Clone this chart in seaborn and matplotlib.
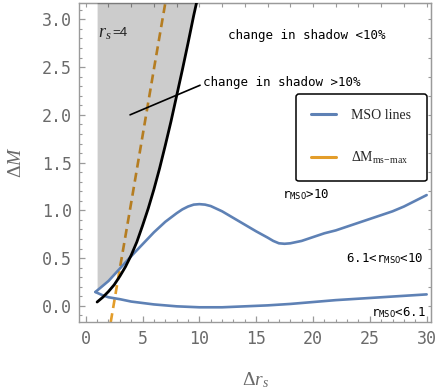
import numpy as np
import pandas as pd
import matplotlib
matplotlib.use("Agg")
import matplotlib.pyplot as plt
from matplotlib.lines import Line2D
import seaborn as sns

# --- data -------------------------------------------------------------
# upper MSO branch (r_MSO > 10 / 6.1 < r_MSO < 10 boundary)
mso_upper_x = [0.85, 2, 3, 4, 5, 6, 7, 8, 8.5, 9, 9.5, 10, 10.5, 11, 12, 13, 14,
               15, 16, 16.5, 17, 17.5, 18, 19, 20, 21, 22, 23, 24, 25, 26, 27,
               28, 29, 30]
mso_upper_y = [0.145, 0.26, 0.39, 0.52, 0.645, 0.77, 0.88, 0.97, 1.01, 1.04,
               1.06, 1.065, 1.06, 1.045, 0.99, 0.92, 0.85, 0.78, 0.715, 0.68,
               0.655, 0.65, 0.655, 0.68, 0.72, 0.76, 0.79, 0.83, 0.87, 0.91,
               0.95, 0.99, 1.04, 1.10, 1.16]
# lower MSO branch (r_MSO < 6.1 boundary)
mso_lower_x = [0.85, 1.5, 2, 3, 4, 5, 6, 7, 8, 9, 10, 12, 14, 16, 18, 20, 22, 24,
               26, 28, 30]
mso_lower_y = [0.145, 0.11, 0.09, 0.07, 0.045, 0.03, 0.015, 0.005, -0.005, -0.01,
               -0.015, -0.015, -0.005, 0.005, 0.02, 0.04, 0.06, 0.075, 0.09, 0.105,
               0.12]
# 10% shadow-change boundary
shadow_x = [1, 1.5, 2, 2.5, 3, 3.5, 4, 4.5, 5, 5.5, 6, 6.5, 7, 7.5, 8, 8.5, 9,
            9.5, 9.8]
shadow_y = [0.04, 0.09, 0.15, 0.22, 0.31, 0.41, 0.53, 0.67, 0.84, 1.02, 1.22,
            1.44, 1.68, 1.93, 2.2, 2.47, 2.75, 3.04, 3.2]
# Delta M_ms-max
dm_max_x = [2.2, 3.0, 4.0, 5.0, 6.0, 7.0, 7.3]
dm_max_y = [-0.17, 0.39, 1.08, 1.78, 2.48, 3.17, 3.38]

x_ticks = [0, 5, 10, 15, 20, 25, 30]
y_ticks = [0.0, 0.5, 1.0, 1.5, 2.0, 2.5, 3.0]
x_lim = (-0.6, 30.4)
y_lim = (-0.17, 3.17)

# --- style ------------------------------------------------------------
sns.set_style("ticks")
plt.rcParams["font.family"] = ["DejaVu Sans Mono", "DejaVu Sans"]
plt.rcParams["mathtext.fontset"] = "custom"
plt.rcParams["mathtext.rm"] = "Liberation Serif"
plt.rcParams["mathtext.it"] = "Liberation Serif:italic"
plt.rcParams["mathtext.tt"] = "DejaVu Sans Mono"

BLUE = "#5E81B5"
ORANGE = "#E39D2A"
AXIS_GRAY = "#9a9a9a"
TEXT_GRAY = "#6a6a6a"

fig = plt.figure(figsize=(4.36, 3.89), dpi=100)
ax = fig.add_axes([0.181, 0.172, 0.808, 0.820])

upper = pd.DataFrame({"dr": mso_upper_x, "dM": mso_upper_y})
lower = pd.DataFrame({"dr": mso_lower_x, "dM": mso_lower_y})
shadow = pd.DataFrame({"dr": shadow_x, "dM": shadow_y})
dmax = pd.DataFrame({"dr": dm_max_x, "dM": dm_max_y})

# Delta M_ms-max (dashed), under the shaded region
sns.lineplot(data=dmax, x="dr", y="dM", ax=ax, color=ORANGE, lw=1.9,
             sort=False, estimator=None, zorder=2)
ax.lines[-1].set_dashes((3.4, 2.0))

# shaded region: left of the shadow boundary, above the upper MSO branch
xf = np.linspace(1.0, shadow_x[-1], 300)
lower_edge = np.maximum(np.interp(xf, mso_upper_x, mso_upper_y),
                        np.interp(xf, shadow_x, shadow_y))
ax.fill_between(xf, lower_edge, y_lim[1] + 0.5, color="black", alpha=0.2,
                lw=0, zorder=3)

sns.lineplot(data=upper, x="dr", y="dM", ax=ax, color=BLUE, lw=1.9,
             sort=False, estimator=None, zorder=4)
sns.lineplot(data=lower, x="dr", y="dM", ax=ax, color=BLUE, lw=1.9,
             sort=False, estimator=None, zorder=4)
sns.lineplot(data=shadow, x="dr", y="dM", ax=ax, color="black", lw=2.0,
             sort=False, estimator=None, zorder=5)

# pointer to the shaded region
ax.plot([3.9, 10.06], [2.0, 2.31], color="black", lw=1.2, zorder=6)

ax.set_xlim(*x_lim)
ax.set_ylim(*y_lim)

# --- annotations ------------------------------------------------------
ax.text(12.5, 2.83, "change in shadow <10%", fontsize=9, va="center",
        ha="left", color="black")
ax.text(10.3, 2.34, "change in shadow >10%", fontsize=9, va="center",
        ha="left", color="black")
ax.text(1.06, 2.86, r"$r_s$", fontsize=13, va="center", ha="left",
        color="#222222", zorder=7)
ax.text(2.35, 2.86, "=4", fontsize=9.5, va="center", ha="left",
        family="Liberation Sans", color="#222222", zorder=7)
ax.text(17.3, 1.17, r"r$_{\mathtt{MSO}}$>10", fontsize=9, va="center",
        ha="left", color="black")
ax.text(29.75, 0.50, r"6.1<r$_{\mathtt{MSO}}$<10", fontsize=9, va="center",
        ha="right", color="black")
ax.text(29.9, -0.075, r"r$_{\mathtt{MSO}}$<6.1", fontsize=9, va="center",
        ha="right", color="black")

# --- legend -----------------------------------------------------------
handles = [Line2D([], [], color=BLUE, lw=2.2),
           Line2D([], [], color=ORANGE, lw=2.2)]
labels = ["MSO lines", r"$\mathrm{\Delta M_{ms\!-\!max}}$"]
leg = ax.legend(handles, labels, loc="upper left",
                bbox_to_anchor=(0.616, 0.715), frameon=True, fancybox=True,
                prop={"family": "Liberation Serif", "size": 10},
                handlelength=1.8, handletextpad=1.1, labelspacing=2.0,
                borderpad=1.1, borderaxespad=0.0)
leg.get_frame().set_edgecolor("black")
leg.get_frame().set_linewidth(1.1)
leg.get_frame().set_alpha(1)
leg.set_zorder(8)

# --- axes styling -----------------------------------------------------
for side in ["left", "right", "top", "bottom"]:
    ax.spines[side].set_color(AXIS_GRAY)
    ax.spines[side].set_linewidth(1.0)
    ax.spines[side].set_visible(True)

ax.set_xticks(x_ticks)
ax.set_yticks(y_ticks)
ax.set_xticklabels([str(t) for t in x_ticks])
ax.set_yticklabels([f"{t:.1f}" for t in y_ticks])
ax.set_xticks(np.arange(0, 31, 1), minor=True)
ax.set_yticks(np.arange(-0.1, 3.15, 0.1), minor=True)
ax.tick_params(axis="both", which="both", direction="in", color=AXIS_GRAY,
               top=False, right=False)
ax.tick_params(axis="both", which="major", length=4, width=0.9,
               labelsize=12, labelcolor=TEXT_GRAY)
ax.tick_params(axis="both", which="minor", length=2.2, width=0.8)
ax.tick_params(axis="x", which="major", pad=6)
ax.tick_params(axis="y", which="major", pad=5)

top = ax.secondary_xaxis("top")
top.set_xticks(np.arange(0, 31, 2))
top.set_xticklabels([])
top.tick_params(direction="in", length=3, width=0.8, color=AXIS_GRAY)
top.spines["top"].set_color(AXIS_GRAY)

right = ax.secondary_yaxis("right")
right.set_yticks(np.arange(0.0, 3.15, 0.2))
right.set_yticklabels([])
right.tick_params(direction="in", length=2.5, width=0.8, color=AXIS_GRAY)
right.spines["right"].set_color(AXIS_GRAY)

ax.set_xlabel(r"$\mathit{\Delta r_s}$", fontsize=14, color=TEXT_GRAY,
              labelpad=16)
ax.set_ylabel(r"$\mathit{\Delta M}$", fontsize=14, color=TEXT_GRAY,
              labelpad=12)

fig.savefig("out.png", dpi=100)
